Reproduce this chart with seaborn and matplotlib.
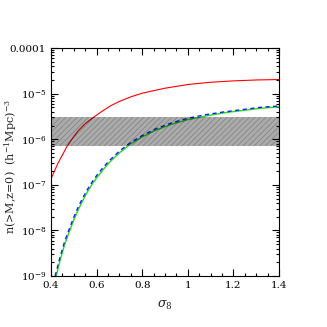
import math

import pandas as pd
import seaborn as sns
from matplotlib import pyplot as plt
from matplotlib.ticker import FuncFormatter, LogLocator, MultipleLocator, NullFormatter

# values (log10 of n)
sigma_red = [0.40, 0.43, 0.47, 0.50, 0.52, 0.55, 0.586, 0.62, 0.66, 0.70, 0.75, 0.80,
             0.90, 1.00, 1.10, 1.20, 1.30, 1.40]
logn_red = [-6.87, -6.53, -6.16, -5.94, -5.81, -5.66, -5.52, -5.40, -5.27, -5.17, -5.07, -4.99,
            -4.88, -4.80, -4.75, -4.72, -4.70, -4.69]

sigma_blue = [0.418, 0.44, 0.46, 0.48, 0.50, 0.52, 0.54, 0.56, 0.58, 0.60, 0.63, 0.66,
              0.70, 0.75, 0.80, 0.86, 0.93, 1.00, 1.08, 1.16, 1.24, 1.32, 1.40]
logn_blue = [-9.00, -8.58, -8.24, -7.97, -7.71, -7.48, -7.28, -7.10, -6.94, -6.80, -6.61, -6.45,
             -6.26, -6.07, -5.92, -5.77, -5.64, -5.54, -5.46, -5.40, -5.35, -5.30, -5.27]

sigma_green = [0.423, 0.44, 0.46, 0.48, 0.50, 0.52, 0.54, 0.56, 0.58, 0.60, 0.63, 0.66,
               0.70, 0.75, 0.80, 0.86, 0.93, 1.00, 1.08, 1.16, 1.24, 1.32, 1.40]
logn_green = [-9.00, -8.65, -8.31, -8.03, -7.77, -7.54, -7.34, -7.15, -6.99, -6.85, -6.66, -6.49,
              -6.30, -6.10, -5.95, -5.80, -5.67, -5.57, -5.49, -5.42, -5.37, -5.32, -5.29]

band_low = 7e-7
band_high = 3e-6

sns.set_theme(style="ticks")
plt.rcParams['font.family'] = ['DejaVu Serif']
plt.rcParams['mathtext.fontset'] = 'dejavuserif'
plt.rcParams['hatch.linewidth'] = 0.6

red = pd.DataFrame({"sigma": sigma_red, "n": [10 ** v for v in logn_red]})
blue = pd.DataFrame({"sigma": sigma_blue, "n": [10 ** v for v in logn_blue]})
green = pd.DataFrame({"sigma": sigma_green, "n": [10 ** v for v in logn_green]})

fig = plt.figure(figsize=(3.27, 3.27), dpi=100)
ax = fig.add_axes([0.156, 0.156, 0.697, 0.697])

sns.lineplot(data=red, x="sigma", y="n", ax=ax, color="red", lw=0.8, sort=False)
sns.lineplot(data=green, x="sigma", y="n", ax=ax, color="#22dd22", lw=1.0, sort=False)
sns.lineplot(data=blue, x="sigma", y="n", ax=ax, color="#1a1aff", lw=1.0, sort=False,
             linestyle=(0, (3, 2.5)))

# observational band, drawn over the curves
ax.axhspan(band_low, band_high, facecolor=(0, 0, 0, 0.33), edgecolor=(0, 0, 0, 0.22),
           hatch="//////", lw=0, zorder=3)

ax.set_yscale("log")
ax.set_xlim(0.4, 1.4)
ax.set_ylim(1e-9, 1e-4)

ax.xaxis.set_major_locator(MultipleLocator(0.2))
ax.xaxis.set_minor_locator(MultipleLocator(0.05))
ax.xaxis.set_major_formatter(FuncFormatter(lambda v, p: "%g" % round(v, 2)))
ax.yaxis.set_major_locator(LogLocator(base=10, numticks=20))
ax.yaxis.set_minor_locator(LogLocator(base=10, subs=range(2, 10), numticks=20))
ax.yaxis.set_minor_formatter(NullFormatter())


def ylab(v, p):
    e = int(round(math.log10(v)))
    if e == -4:
        return "0.0001"
    return r"10$^{%d}$" % e


ax.yaxis.set_major_formatter(FuncFormatter(ylab))

ax.tick_params(which="both", direction="in", top=True, right=True, width=0.8,
               labelsize=7.5, colors="black")
ax.tick_params(which="major", length=5)
ax.tick_params(which="minor", length=2.5)
for s in ax.spines.values():
    s.set_linewidth(0.8)
    s.set_color("black")

ax.set_xlabel(r"$\sigma_8$", fontsize=9)
ax.set_ylabel(r"n(>M,z=0)  (h$^{-1}$Mpc)$^{-3}$", fontsize=8)
ax.yaxis.set_label_coords(-0.14, 0.48)
ax.xaxis.set_label_coords(0.5, -0.1)

fig.savefig("out.png", dpi=100)
